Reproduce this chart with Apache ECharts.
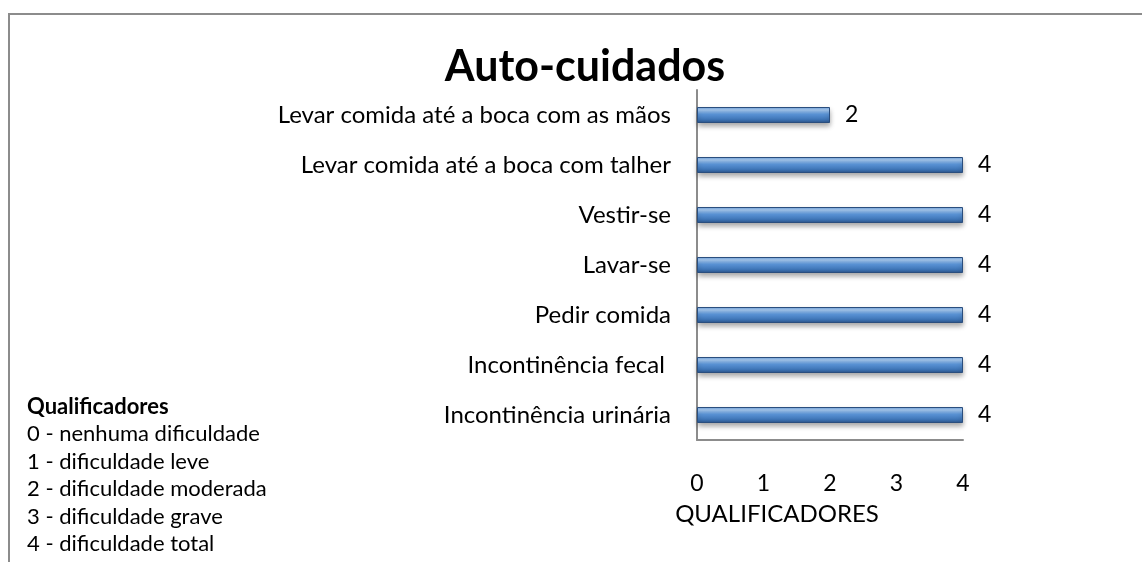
<!DOCTYPE html>
<html>
<head>
<meta charset="utf-8">
<script src="https://cdn.jsdelivr.net/npm/echarts@6/dist/echarts.min.js"></script>
<style>
  html, body { margin: 0; padding: 0; background: #fff; }
  #chart { width: 1142px; height: 562px; }
</style>
</head>
<body>
<div id="chart"></div>
<script>
// categories, top to bottom as in the picture
const categories = [
    'Levar comida até a boca com as mãos',
    'Levar comida até a boca com talher',
    'Vestir-se',
    'Lavar-se',
    'Pedir comida',
    'Incontinência fecal ',
    'Incontinência urinária'
];
const values = [2, 4, 4, 4, 4, 4, 4];
const xTicks = [0, 1, 2, 3, 4];

const legendTitle = 'Qualificadores';
const legendLines = [
    '0 - nenhuma dificuldade',
    '1 - dificuldade leve',
    '2 - dificuldade moderada',
    '3 - dificuldade grave',
    '4 - dificuldade total'
];

const font = 'Lato, "Open Sans", sans-serif';

// bevelled blue bar look
const barColor = new echarts.graphic.LinearGradient(0, 0, 0, 1, [
    { offset: 0, color: '#6b9fdc' },
    { offset: 0.18, color: '#a8cbf2' },
    { offset: 0.45, color: '#5b95d8' },
    { offset: 0.8, color: '#3c72b3' },
    { offset: 1, color: '#2b5387' }
]);

let legendGraphics = [{
    type: 'text',
    left: 27,
    top: 396,
    style: { text: legendTitle, fontFamily: font, fontWeight: 'bold', fontSize: 22, fill: '#000' }
}];
legendLines.forEach((line, i) => {
    legendGraphics.push({
        type: 'text',
        left: 27,
        top: 423 + i * 27.5,
        style: { text: line, fontFamily: font, fontSize: 22, fill: '#000' }
    });
});

let option = {
    animation: false,
    backgroundColor: '#fff',
    title: {
        text: 'Auto-cuidados',
        left: 580,
        textAlign: 'center',
        top: 41,
        textStyle: { fontFamily: font, fontWeight: 'bold', fontSize: 43, color: '#000' }
    },
    grid: { left: 697, right: 179, top: 90, bottom: 122 },
    xAxis: {
        type: 'value',
        min: 0,
        max: 4,
        interval: 1,
        name: 'QUALIFICADORES',
        nameLocation: 'middle',
        nameGap: 62,
        nameTextStyle: { fontFamily: font, fontSize: 24, color: '#000', padding: [0, 106, 0, 0] },
        axisLine: { show: true, lineStyle: { color: '#8c8c8c', width: 2 } },
        axisTick: { show: false },
        splitLine: { show: false },
        axisLabel: {
            margin: 32,
            fontFamily: font,
            fontSize: 23,
            color: '#000',
            formatter: v => xTicks.includes(v) ? String(v) : ''
        }
    },
    yAxis: {
        type: 'category',
        inverse: true,
        data: categories,
        axisLine: { show: true, lineStyle: { color: '#8c8c8c', width: 2 } },
        axisTick: { show: false },
        axisLabel: { margin: 26, fontFamily: font, fontSize: 24, color: '#000' }
    },
    series: [{
        type: 'bar',
        data: values,
        barWidth: 16,
        itemStyle: {
            color: barColor,
            borderColor: '#2a4e7e',
            borderWidth: 1,
            shadowColor: 'rgba(0,0,0,0.35)',
            shadowBlur: 5,
            shadowOffsetY: 3
        },
        label: {
            show: true,
            position: 'right',
            distance: 15,
            fontFamily: font,
            fontSize: 23,
            color: '#000'
        }
    }],
    graphic: [
        {
            type: 'polyline',
            shape: { points: [[9, 562], [9, 14], [1142, 14]] },
            style: { stroke: '#8c8c8c', lineWidth: 2, fill: null }
        }
    ].concat(legendGraphics)
};

let chart = echarts.init(document.getElementById('chart'));
chart.setOption(option);
</script>
</body>
</html>
